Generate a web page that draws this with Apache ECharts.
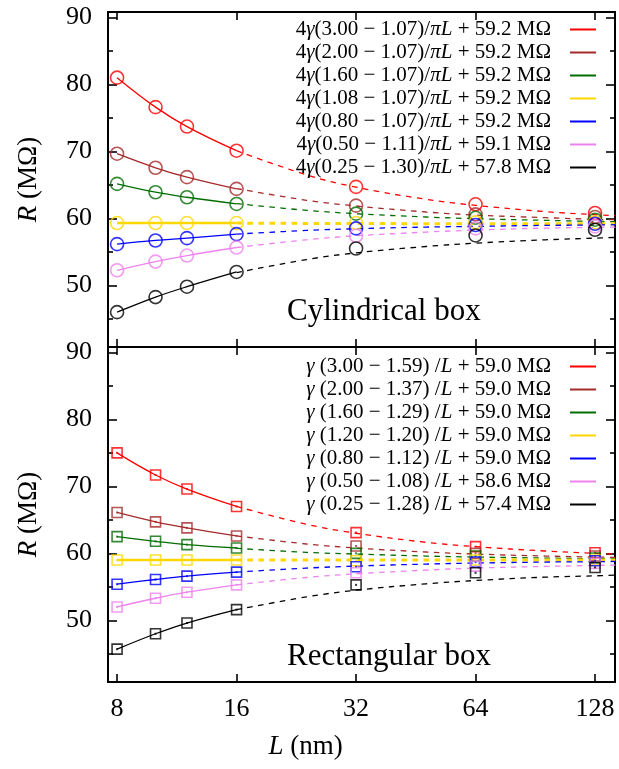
<!DOCTYPE html>
<html>
<head>
<meta charset="utf-8">
<script src="https://cdn.jsdelivr.net/npm/echarts@6/dist/echarts.min.js"></script>
<style>
html,body{margin:0;padding:0;background:#fff;}
#chart{width:619px;height:769px;}
</style>
</head>
<body>
<div id="chart"></div>
<script>
// ---- data ----
const L_POINTS = [8, 10, 12, 16, 32, 64, 128];
const L_FIT_SOLID = [8, 10, 12, 16];
const L_FIT_DASHED = [16, 24, 32, 48, 64, 96, 128, 144];
const X_TICKS = [8, 16, 32, 64, 128];
const Y_MAJOR = [50, 60, 70, 80, 90];
const Y_MINOR = [45, 55, 65, 75, 85];

const COLORS = ['#ff0000', '#a52a2a', '#006d00', '#ffd700', '#0000ff', '#ee82ee', '#000000'];

const cylNames = [
  '4γ(3.00 − 1.07)/πL + 59.2 MΩ',
  '4γ(2.00 − 1.07)/πL + 59.2 MΩ',
  '4γ(1.60 − 1.07)/πL + 59.2 MΩ',
  '4γ(1.08 − 1.07)/πL + 59.2 MΩ',
  '4γ(0.80 − 1.07)/πL + 59.2 MΩ',
  '4γ(0.50 − 1.11)/πL + 59.1 MΩ',
  '4γ(0.25 − 1.30)/πL + 57.8 MΩ'
];
const rectNames = [
  'γ (3.00 − 1.59) /L + 59.0 MΩ',
  'γ (2.00 − 1.37) /L + 59.0 MΩ',
  'γ (1.60 − 1.29) /L + 59.0 MΩ',
  'γ (1.20 − 1.20) /L + 59.0 MΩ',
  'γ (0.80 − 1.12) /L + 59.0 MΩ',
  'γ (0.50 − 1.08) /L + 58.6 MΩ',
  'γ (0.25 − 1.28) /L + 57.4 MΩ'
];

// cylindrical box: measured points at L_POINTS
const cylPtsRed    = [81.0, 76.6, 73.7, 70.1, 64.7, 62.1, 60.8];
const cylPtsBrown  = [69.65, 67.55, 66.15, 64.4, 61.9, 60.6, 60.2];
const cylPtsGreen  = [65.15, 63.9, 63.15, 62.15, 60.7, 60.1, 59.8];
const cylPtsYellow = [59.3, 59.3, 59.3, 59.3, 59.3, 59.4, 59.4];
const cylPtsBlue   = [56.15, 56.7, 57.05, 57.65, 58.5, 59.0, 59.2];
const cylPtsViolet = [52.25, 53.55, 54.45, 55.65, 57.4, 58.5, 58.8];
const cylPtsBlack  = [46.0, 48.25, 49.8, 52.0, 55.5, 57.45, 58.3];

// cylindrical box: fit curve (dashed part) at L_FIT_DASHED
const cylFitRed    = [70.1, 66.5, 64.65, 62.85, 61.95, 61.0, 60.55, 60.4];
const cylFitBrown  = [64.45, 62.7, 61.85, 60.95, 60.5, 60.1, 59.85, 59.8];
const cylFitGreen  = [62.2, 61.2, 60.7, 60.2, 59.95, 59.7, 59.55, 59.5];
const cylFitYellow = [59.3, 59.25, 59.25, 59.2, 59.2, 59.2, 59.2, 59.2];
const cylFitBlue   = [57.65, 58.2, 58.45, 58.7, 58.8, 58.95, 59.0, 59.05];
const cylFitViolet = [55.65, 56.8, 57.4, 57.95, 58.25, 58.55, 58.65, 58.7];
const cylFitBlack  = [51.9, 53.85, 54.85, 55.8, 56.3, 56.8, 57.05, 57.15];

// rectangular box: measured points at L_POINTS
const rectPtsRed    = [75.0, 71.7, 69.6, 67.0, 63.1, 61.0, 60.1];
const rectPtsBrown  = [66.1, 64.7, 63.8, 62.6, 61.1, 60.0, 59.6];
const rectPtsGreen  = [62.5, 61.8, 61.3, 60.8, 60.0, 59.6, 59.3];
const rectPtsYellow = [59.0, 59.0, 59.0, 59.0, 58.9, 59.0, 59.0];
const rectPtsBlue   = [55.4, 56.1, 56.6, 57.2, 58.0, 58.7, 58.9];
const rectPtsViolet = [52.0, 53.3, 54.2, 55.3, 57.1, 58.1, 58.5];
const rectPtsBlack  = [45.7, 48.0, 49.6, 51.6, 55.3, 57.1, 57.9];

// rectangular box: fit curve (dashed part) at L_FIT_DASHED
const rectFitRed    = [67.0, 64.35, 63.0, 61.65, 61.0, 60.35, 60.0, 59.9];
const rectFitBrown  = [62.6, 61.4, 60.8, 60.2, 59.9, 59.6, 59.45, 59.4];
const rectFitGreen  = [60.75, 60.15, 59.9, 59.6, 59.45, 59.3, 59.2, 59.2];
const rectFitYellow = [59.0, 59.0, 59.0, 59.0, 59.0, 59.0, 59.0, 59.0];
const rectFitBlue   = [57.2, 57.8, 58.1, 58.4, 58.55, 58.7, 58.75, 58.8];
const rectFitViolet = [55.3, 56.4, 56.95, 57.5, 57.8, 58.05, 58.2, 58.25];
const rectFitBlack  = [51.6, 53.5, 54.5, 55.45, 55.95, 56.45, 56.65, 56.75];

const cylPts  = [cylPtsRed, cylPtsBrown, cylPtsGreen, cylPtsYellow, cylPtsBlue, cylPtsViolet, cylPtsBlack];
const cylFit  = [cylFitRed, cylFitBrown, cylFitGreen, cylFitYellow, cylFitBlue, cylFitViolet, cylFitBlack];
const rectPts = [rectPtsRed, rectPtsBrown, rectPtsGreen, rectPtsYellow, rectPtsBlue, rectPtsViolet, rectPtsBlack];
const rectFit = [rectFitRed, rectFitBrown, rectFitGreen, rectFitYellow, rectFitBlue, rectFitViolet, rectFitBlack];

// ---- chart ----
const FONT = 'Liberation Serif';
const zip = (xs, ys) => xs.map((x, i) => [x, ys[i]]);

function makeX(gridIndex, position, labels) {
  return {
    type: 'log', logBase: 2, gridIndex, position,
    min: 7.59, max: 143.7,
    axisLine: { show: true, onZero: false, lineStyle: { color: '#000', width: 2 } },
    axisTick: { show: true, inside: true, length: 8, customValues: X_TICKS, lineStyle: { color: '#000', width: 1.6 } },
    axisLabel: {
      show: labels, customValues: X_TICKS, margin: 14,
      fontFamily: FONT, fontSize: 26, color: '#000',
      formatter: v => (X_TICKS.indexOf(Math.round(v)) >= 0 ? String(Math.round(v)) : '')
    },
    minorTick: { show: false },
    splitLine: { show: false },
    name: labels ? '{i|L} (nm)' : '',
    nameLocation: 'middle', nameGap: 51,
    nameTextStyle: {
      fontFamily: FONT, fontSize: 27, color: '#000', padding: [0, 112, 0, 0],
      rich: { i: { fontFamily: FONT, fontSize: 27, fontStyle: 'italic', color: '#000' } }
    }
  };
}

function makeY(gridIndex, position, ticks, len, withLabel, withLine) {
  return {
    type: 'value', gridIndex, position,
    min: 40.8, max: 90.8,
    axisLine: { show: withLine, lineStyle: { color: '#000', width: 2 } },
    axisTick: { show: true, inside: true, length: len, customValues: ticks, lineStyle: { color: '#000', width: 1.6 } },
    axisLabel: {
      show: withLabel, customValues: Y_MAJOR, margin: 16,
      fontFamily: FONT, fontSize: 26, color: '#000'
    },
    splitLine: { show: false },
    name: withLabel ? '{i|R} (MΩ)' : '',
    nameLocation: 'middle', nameGap: 66,
    nameTextStyle: {
      fontFamily: FONT, fontSize: 27, color: '#000',
      rich: { i: { fontFamily: FONT, fontSize: 27, fontStyle: 'italic', color: '#000' } }
    }
  };
}

function richName(name) {
  return name
    .replace('4γ', '4{i|γ}')
    .replace(/^γ/, '{i|γ}')
    .replace('/πL', '/{i|πL}')
    .replace('/L', '/{i|L}');
}

const series = [];
function addPanel(names, pts, fit, xIdx, yIdx, symbol, symSize, withDot) {
  for (let i = 0; i < names.length; i++) {
    const c = COLORS[i];
    const lw = i === 3 ? 2.6 : 1.3;
    series.push({
      name: names[i], type: 'line', xAxisIndex: xIdx, yAxisIndex: yIdx,
      data: zip(L_FIT_SOLID, pts[i].slice(0, 4)), smooth: 0.4,
      symbol: 'none', color: c, lineStyle: { color: c, width: lw, type: 'solid' },
      z: 2, silent: true
    });
    series.push({
      name: names[i] + ' fit', type: 'line', xAxisIndex: xIdx, yAxisIndex: yIdx,
      data: zip(L_FIT_DASHED, fit[i]), smooth: 0.4,
      symbol: 'none', color: c,
      lineStyle: { color: c, width: i === 3 ? 3 : 1.3, type: [5.5, 5.5] },
      z: 2, silent: true
    });
  }
  for (let i = 0; i < names.length; i++) {
    const c = COLORS[i];
    series.push({
      name: names[i] + ' data', type: 'scatter', xAxisIndex: xIdx, yAxisIndex: yIdx,
      data: zip(L_POINTS, pts[i]), symbol, symbolSize: symSize,
      itemStyle: { color: 'rgba(0,0,0,0)', borderColor: c, borderWidth: 1.6 },
      z: 3, silent: true
    });
    if (withDot) {
      series.push({
        name: names[i] + ' dot', type: 'scatter', xAxisIndex: xIdx, yAxisIndex: yIdx,
        data: zip(L_POINTS, pts[i]), symbol: 'rect', symbolSize: 2,
        itemStyle: { color: c }, z: 3, silent: true
      });
    }
  }
}
addPanel(cylNames, cylPts, cylFit, 0, 0, 'circle', 13, false);
addPanel(rectNames, rectPts, rectFit, 2, 4, 'rect', 10, true);

function makeLegend(names, top) {
  return {
    data: names, orient: 'vertical', align: 'right', right: 17, top,
    itemWidth: 26, itemHeight: 18, itemGap: 2, selectedMode: false,
    itemStyle: { opacity: 0, borderWidth: 0 },
    formatter: richName,
    textStyle: {
      fontFamily: FONT, fontSize: 21, color: '#000', padding: [0, 14, 0, 0], lineHeight: 18,
      rich: { i: { fontFamily: FONT, fontSize: 21, fontStyle: 'italic', color: '#000', lineHeight: 18 } }
    }
  };
}

const option = {
  animation: false,
  backgroundColor: '#fff',
  grid: [
    { left: 108, top: 12, width: 507, height: 335 },
    { left: 108, top: 347, width: 507, height: 335 }
  ],
  xAxis: [
    makeX(0, 'bottom', false),
    makeX(0, 'top', false),
    makeX(1, 'bottom', true),
    makeX(1, 'top', false)
  ],
  yAxis: [
    makeY(0, 'left', Y_MAJOR, 9, true, true),
    makeY(0, 'left', Y_MINOR, 5, false, false),
    makeY(0, 'right', Y_MAJOR, 9, false, true),
    makeY(0, 'right', Y_MINOR, 5, false, false),
    makeY(1, 'left', Y_MAJOR, 9, true, true),
    makeY(1, 'left', Y_MINOR, 5, false, false),
    makeY(1, 'right', Y_MAJOR, 9, false, true),
    makeY(1, 'right', Y_MINOR, 5, false, false)
  ],
  legend: [makeLegend(cylNames, 14), makeLegend(rectNames, 351)],
  graphic: [
    { type: 'text', left: 287, top: 296, style: { text: 'Cylindrical box', font: '31px "Liberation Serif"', fill: '#000' } },
    { type: 'text', left: 287, top: 641, style: { text: 'Rectangular box', font: '31px "Liberation Serif"', fill: '#000' } }
  ],
  series
};

const chart = echarts.init(document.getElementById('chart'), null, { renderer: 'canvas' });
chart.setOption(option);
</script>
</body>
</html>
